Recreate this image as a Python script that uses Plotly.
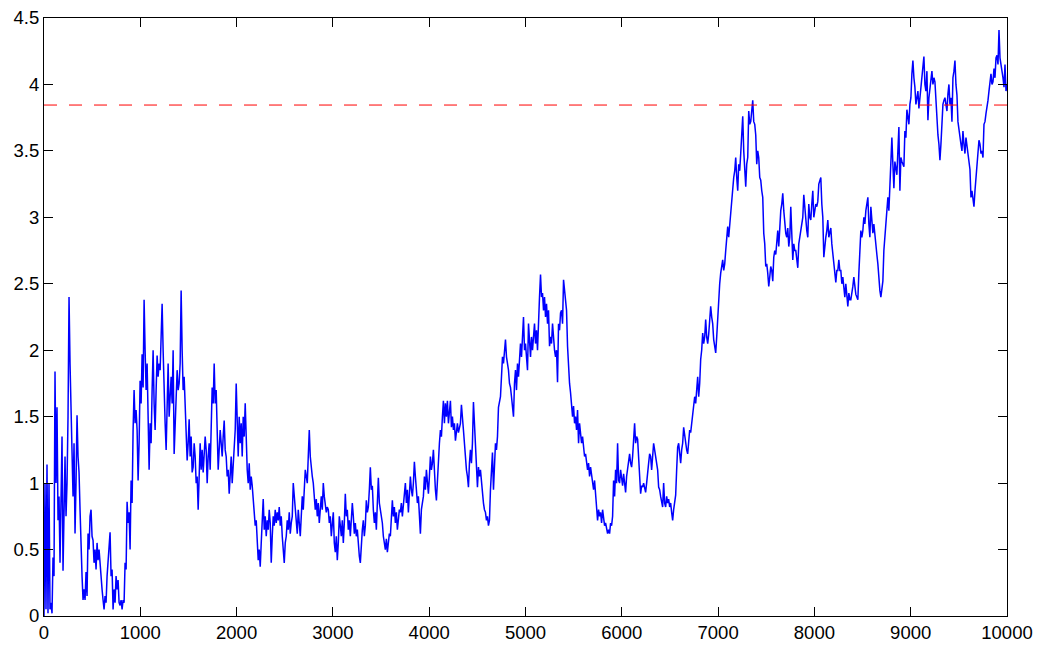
import numpy as np
import plotly.graph_objects as go

# Random-walk values, about one sample per screen pixel (~10.4 steps)
walk = [
    0.0, 1.0, 0.05, 1.14, 0.02, 1.0, 0.05, 0.1, 0.02, 0.44,
    0.3, 1.84, 1.0, 1.57, 0.72, 0.9, 0.4, 0.8, 1.35, 0.34,
    0.9, 1.2, 0.75, 1.0, 1.5, 2.40, 1.9, 1.55, 1.15, 0.9,
    1.3, 0.62, 1.0, 1.51, 1.2, 1.08, 0.8, 0.44, 0.3, 0.12,
    0.2, 0.12, 0.33, 0.15, 0.62, 0.5, 0.75, 0.80, 0.6, 0.57,
    0.4, 0.5, 0.35, 0.55, 0.42, 0.5, 0.37, 0.28, 0.2, 0.12,
    0.05, 0.15, 0.1, 0.3, 0.4, 0.5, 0.63, 0.3, 0.35, 0.05,
    0.2, 0.1, 0.3, 0.2, 0.27, 0.1, 0.08, 0.12, 0.05, 0.12,
    0.1, 0.40, 0.35, 0.86, 0.7, 0.78, 0.5, 1.02, 0.85, 1.4,
    1.7, 1.45, 1.55, 1.4, 1.02, 1.3, 1.77, 1.6, 1.97, 1.72,
    2.38, 2.0, 1.7, 1.9, 1.5, 1.1, 1.45, 1.3, 1.7, 2.0,
    1.6, 1.4, 1.7, 1.96, 1.8, 1.9, 1.85, 2.1, 2.35, 2.0,
    1.6, 1.45, 1.25, 1.5, 1.9, 1.5, 1.66, 1.8, 1.6, 2.0,
    1.22, 1.5, 1.6, 1.85, 1.7, 1.75, 1.9, 2.45, 2.0, 1.7,
    1.8, 1.55, 1.42, 1.17, 1.3, 1.48, 1.2, 1.35, 1.08, 1.12,
    1.3, 1.2, 1.0, 1.05, 0.80, 1.0, 1.3, 1.1, 1.25, 1.08,
    1.2, 1.35, 1.25, 1.0, 1.2, 1.3, 1.1, 1.5, 1.72, 1.6,
    1.90, 1.6, 1.7, 1.4, 1.1, 1.25, 1.4, 1.3, 1.2, 1.35,
    1.47, 1.25, 1.2, 1.05, 1.1, 0.92, 1.1, 1.2, 1.0, 1.15,
    1.3, 1.4, 1.75, 1.45, 1.2, 1.5, 1.3, 1.45, 1.2, 1.5,
    1.35, 1.6, 1.2, 1.1, 1.0, 1.15, 0.95, 1.05, 0.98, 0.86,
    0.78, 0.68, 0.72, 0.55, 0.42, 0.5, 0.37, 0.55, 0.7, 0.88,
    0.65, 0.75, 0.6, 0.72, 0.65, 0.8, 0.7, 0.4, 0.6, 0.75,
    0.68, 0.8, 0.7, 0.78, 0.72, 0.82, 0.68, 0.75, 0.6, 0.5,
    0.4, 0.55, 0.6, 0.72, 0.65, 0.78, 0.62, 0.7, 0.75, 1.0,
    0.9, 0.85, 0.7, 0.62, 0.8, 0.7, 0.6, 0.75, 0.9, 0.8,
    0.95, 1.1, 1.05, 1.0, 1.2, 1.40, 1.2, 1.1, 1.05, 1.0,
    0.9, 0.8, 0.88, 0.75, 0.85, 0.7, 0.8, 0.9, 0.8, 1.0,
    0.9, 0.85, 0.78, 0.82, 0.8, 0.7, 0.75, 0.6, 0.7, 0.78,
    0.55, 0.48, 0.6, 0.42, 0.55, 0.75, 0.68, 0.6, 0.72, 0.55,
    0.7, 0.92, 0.75, 0.8, 0.65, 0.72, 0.6, 0.7, 0.85, 0.75,
    0.62, 0.7, 0.6, 0.65, 0.5, 0.45, 0.40, 0.55, 0.65, 0.72,
    0.6, 0.68, 0.87, 0.78, 0.82, 0.95, 1.12, 0.95, 0.98, 0.8,
    0.7, 0.78, 0.65, 0.85, 1.04, 0.85, 0.8, 0.78, 0.7, 0.6,
    0.52, 0.5, 0.58, 0.48, 0.55, 0.62, 0.6, 0.72, 0.87, 0.75,
    0.82, 0.7, 0.78, 0.65, 0.75, 0.8, 0.78, 0.85, 0.75, 0.82,
    0.9, 1.0, 0.85, 0.95, 0.78, 0.9, 1.05, 0.95, 0.9, 1.0,
    1.16, 1.05, 0.95, 0.85, 0.9, 0.75, 0.62, 0.8, 0.85, 0.9,
    1.05, 0.95, 1.1, 1.0, 0.92, 1.05, 1.2, 1.1, 1.15, 1.25,
    1.05, 0.95, 0.87, 1.05, 1.25, 1.3, 1.40, 1.35, 1.5, 1.62,
    1.45, 1.6, 1.5, 1.62, 1.45, 1.55, 1.62, 1.42, 1.5, 1.4,
    1.45, 1.32, 1.4, 1.45, 1.38, 1.42, 1.45, 1.59, 1.45, 1.4,
    1.3, 1.17, 1.1, 1.05, 0.97, 1.15, 1.25, 1.15, 1.3, 1.61,
    1.45, 1.3, 1.1, 0.97, 1.12, 1.05, 1.1, 1.0, 0.9, 0.85,
    0.8, 0.78, 0.72, 0.75, 0.68, 0.72, 0.95, 1.1, 1.23, 0.95,
    1.1, 1.3, 1.25, 1.35, 1.57, 1.6, 1.65, 1.8, 1.95, 1.9,
    2.0, 2.08, 1.95, 1.9, 1.85, 1.75, 1.72, 1.65, 1.57, 1.5,
    1.75, 1.85, 1.7, 1.9, 1.8, 1.95, 2.05, 1.95, 2.10, 2.25,
    2.0, 2.05, 1.95, 1.85, 2.2, 2.05, 1.95, 2.1, 2.0, 2.1,
    2.2, 2.05, 2.15, 2.0, 2.3, 2.4, 2.57, 2.4, 2.43, 2.3,
    2.4, 2.25, 2.35, 2.2, 2.3, 2.03, 2.1, 2.05, 2.2, 2.05,
    2.0, 1.95, 2.0, 1.76, 2.2, 2.15, 2.28, 2.3, 2.2, 2.53,
    2.45, 2.35, 2.3, 2.03, 1.87, 1.75, 1.68, 1.6, 1.5, 1.58,
    1.45, 1.5, 1.4, 1.55, 1.3, 1.45, 1.38, 1.3, 1.35, 1.25,
    1.2, 1.22, 1.15, 1.1, 1.15, 1.05, 1.12, 1.05, 1.0, 0.95,
    1.02, 0.93, 0.85, 0.72, 0.8, 0.75, 0.78, 0.7, 0.8, 0.72,
    0.68, 0.7, 0.65, 0.62, 0.65, 0.62, 0.7, 0.68, 0.75, 1.02,
    0.9, 1.1, 1.0, 1.3, 1.02, 1.0, 1.1, 1.05, 0.98, 1.07,
    1.0, 0.93, 1.05, 1.1, 1.15, 1.22, 1.15, 1.12, 1.2, 1.35,
    1.45, 1.3, 1.35, 1.33, 1.15, 1.05, 0.92, 0.98, 0.97, 1.0,
    0.95, 0.93, 1.0, 1.1, 1.15, 1.22, 1.2, 1.1, 1.2, 1.30,
    1.25, 1.2, 1.15, 1.1, 0.97, 0.95, 0.9, 0.85, 0.82, 1.0,
    0.85, 0.82, 0.9, 0.85, 0.88, 0.82, 0.85, 0.78, 0.72, 0.8,
    0.85, 0.91, 1.1, 1.27, 1.3, 1.2, 1.15, 1.25, 1.3, 1.42,
    1.35, 1.3, 1.25, 1.22, 1.35, 1.4, 1.38, 1.45, 1.50, 1.62,
    1.65, 1.6, 1.7, 1.80, 1.65, 1.75, 1.93, 2.0, 2.13, 2.05,
    2.1, 2.23, 2.1, 2.05, 2.12, 2.2, 2.33, 2.25, 2.2, 2.08,
    2.0, 1.98, 2.1, 2.25, 2.43, 2.5, 2.58, 2.62, 2.68, 2.6,
    2.65, 2.75, 2.85, 2.93, 2.85, 2.95, 3.03, 3.1, 3.18, 3.3,
    3.35, 3.45, 3.3, 3.2, 3.4, 3.35, 3.48, 3.6, 3.76, 3.5,
    3.35, 3.23, 3.4, 3.45, 3.8, 3.7, 3.72, 3.78, 3.88, 3.72,
    3.7, 3.62, 3.4, 3.5, 3.45, 3.3, 3.28, 3.2, 3.15, 2.88,
    2.8, 2.63, 2.65, 2.58, 2.48, 2.55, 2.63, 2.6, 2.52, 2.7,
    2.75, 2.72, 2.8, 2.9, 2.78, 2.95, 3.05, 3.1, 3.18, 3.05,
    2.95, 2.88, 2.85, 2.92, 2.78, 2.85, 3.08, 2.9, 2.68, 2.8,
    2.75, 2.75, 2.7, 2.62, 2.8, 2.85, 2.9, 2.95, 3.0, 3.17,
    3.05, 2.93, 2.9, 2.85, 3.1, 3.0, 2.98, 3.1, 3.2, 3.0,
    3.05, 3.1, 3.08, 3.12, 3.25, 3.28, 3.30, 3.1, 3.0, 2.70,
    2.8, 2.85, 2.9, 2.98, 2.85, 2.9, 2.92, 2.8, 2.72, 2.65,
    2.58, 2.51, 2.6, 2.6, 2.68, 2.6, 2.6, 2.5, 2.55, 2.45,
    2.4, 2.5, 2.42, 2.33, 2.43, 2.38, 2.38, 2.42, 2.48, 2.55,
    2.45, 2.42, 2.4, 2.38, 2.58, 2.75, 2.9, 2.85, 2.9, 3.0,
    2.95, 3.05, 3.1, 3.15, 2.95, 2.85, 3.08, 2.95, 2.88, 2.95,
    2.85, 2.78, 2.72, 2.65, 2.5, 2.45, 2.40, 2.45, 2.52, 2.75,
    2.85, 2.98, 3.1, 3.15, 3.05, 3.2, 3.35, 3.60, 3.4, 3.22,
    3.42, 3.38, 3.32, 3.5, 3.68, 3.2, 3.45, 3.42, 3.4, 3.38,
    3.65, 3.6, 3.81, 3.75, 3.7, 3.85, 3.9, 4.08, 4.18, 4.05,
    3.98, 3.85, 3.92, 3.95, 3.82, 3.9, 3.98, 4.05, 4.1, 4.21,
    4.0, 3.95, 4.1, 3.73, 3.9, 3.98, 4.05, 4.1, 4.0, 4.05,
    4.02, 3.85, 3.72, 3.62, 3.55, 3.43, 3.55, 3.7, 3.85, 3.88,
    3.9, 3.85, 3.8, 3.93, 4.0, 3.85, 3.9, 3.72, 4.05, 4.1,
    4.18, 4.0, 3.92, 3.72, 3.65, 3.62, 3.55, 3.5, 3.65, 3.55,
    3.48, 3.6, 3.55, 3.48, 3.42, 3.36, 3.15, 3.2, 3.11, 3.08,
    3.2, 3.3, 3.42, 3.45, 3.58, 3.55, 3.48, 3.5, 3.45, 3.7,
    3.72, 3.78, 3.82, 3.88, 3.95, 4.0, 4.08, 4.0, 4.02, 4.12,
    4.05, 4.2, 4.22, 4.15, 4.41, 4.2, 4.15, 4.12, 4.05, 3.98,
    4.15, 3.95, 4.0,
]
n_steps = 10000
threshold = 3.845

x_ticks = list(range(0, 10001, 1000))
y_ticks = [0, 0.5, 1, 1.5, 2, 2.5, 3, 3.5, 4, 4.5]
y_tick_text = ["0", "0.5", "1", "1.5", "2", "2.5", "3", "3.5", "4", "4.5"]

steps = np.linspace(0, n_steps, len(walk))

fig = go.Figure()
fig.add_trace(go.Scatter(x=steps, y=walk, mode="lines",
                         line=dict(color="#0000ff", width=1.5), showlegend=False,
                         hoverinfo="skip"))
fig.add_trace(go.Scatter(x=[0, n_steps], y=[threshold, threshold], mode="lines",
                         line=dict(color="#ff0000", width=1, dash="13px,12px"),
                         showlegend=False, hoverinfo="skip"))

axis_common = dict(showgrid=False, zeroline=False, showline=True, linecolor="black",
                   linewidth=1, mirror="ticks", ticks="inside", ticklen=9,
                   tickcolor="black", tickwidth=1, automargin=False,
                   ticklabeloverflow="allow",
                   tickfont=dict(family="Liberation Sans, Arial, sans-serif", size=18.5,
                                 color="black"))

fig.update_xaxes(range=[0, n_steps], tickvals=x_ticks, ticktext=[str(v) for v in x_ticks],
                 **axis_common)
fig.update_yaxes(range=[0, 4.5], tickvals=y_ticks, ticktext=y_tick_text, **axis_common)

# page body adds an 8px margin, so the figure is sized/offset to land the plot box
# at the same screen position as the reference
fig.update_layout(width=1035, height=640, margin=dict(l=36, r=36, t=10, b=32),
                  plot_bgcolor="white", paper_bgcolor="white")

fig.write_html("out.html")
